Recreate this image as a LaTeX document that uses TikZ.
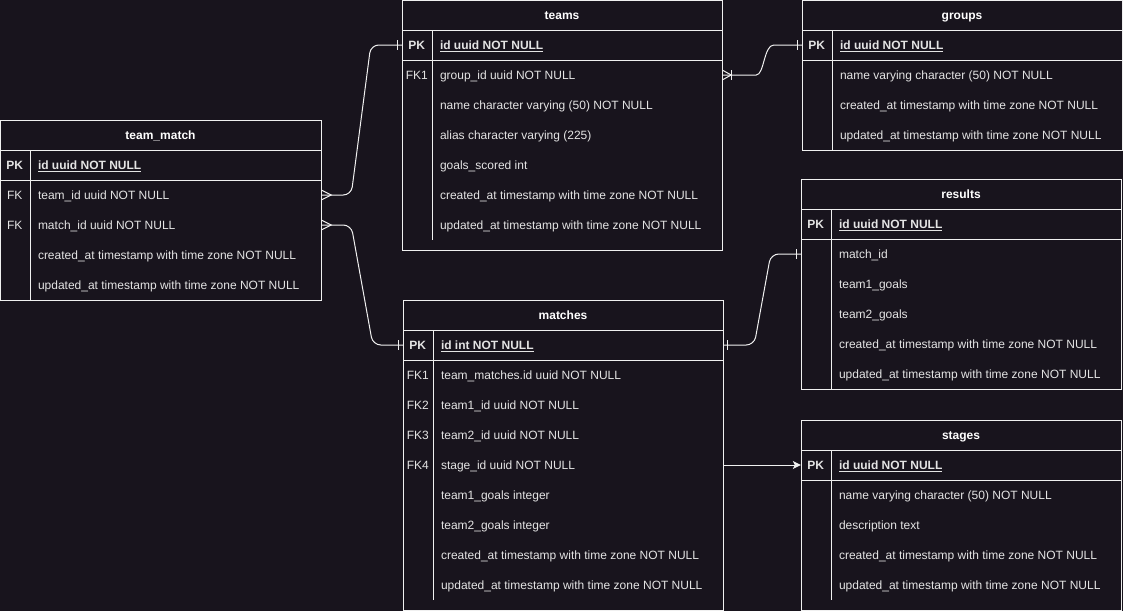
\documentclass[tikz,border=0pt]{standalone}
\usepackage{fontspec}
\setmainfont{Liberation Sans}
\usetikzlibrary{arrows.meta,calc}
\definecolor{bgc}{RGB}{24,20,29}
\definecolor{linec}{RGB}{240,240,240}
\definecolor{txtc}{RGB}{228,228,228}
\tikzset{
  tline/.style={draw=linec, line width=1pt},
  hdrbox/.style={inner sep=0pt, minimum height=30pt, draw=none},
  hdrtxt/.style={inner sep=0pt, anchor=base, text=white, font=\fontsize{12}{14}\selectfont\bfseries},
  rowbox/.style={inner sep=0pt, minimum height=30pt, draw=none},
  keytxt/.style={inner sep=0pt, anchor=base, text=txtc, font=\fontsize{12}{14}\selectfont},
  fldtxt/.style={inner sep=0pt, anchor=base west, text=txtc, font=\fontsize{12}{14}\selectfont},
  conn/.style={draw=linec, line width=1pt, rounded corners=8pt},
  ermark/.style={draw=linec, line width=1pt}
}
% #1 name, #2 x, #3 y, #4 width, #5 bottom, #6 title, #7 divider end
\newcommand\ertbl[7]{%
  \draw[tline] (#2,#3) rectangle (#2+#4,#5);
  \node[hdrbox, minimum width=#4] (#1) at (#2+#4/2,#3+15) {};
  \node[hdrtxt] at ([yshift=-4.5pt]#1.center) {#6};
  \draw[tline] (#2,#3+30) -- (#2+#4,#3+30);
  \draw[tline] (#2,#3+60) -- (#2+#4,#3+60);
  \draw[tline] (#2+30,#3+30) -- (#2+30,#7);
}
% #1 name, #2 x, #3 row top, #4 width, #5 key, #6 text
\newcommand\erfld[6]{%
  \node[rowbox, minimum width=#4] (#1) at (#2+#4/2,#3+15) {};
  \node[keytxt] at ([xshift=15pt,yshift=-4.5pt]#1.west) {#5};
  \node[fldtxt] at ([xshift=38pt,yshift=-4.5pt]#1.west) {#6};
}
\newcommand\pkf[1]{\underline{\textbf{#1}}}
\begin{document}
\begin{tikzpicture}[x=1pt,y=-1pt]
\fill[bgc] (0,0) rectangle (1123,611);
\useasboundingbox (0,0) rectangle (1123,611);

% team_match
\ertbl{tm}{0}{120}{321}{300}{team\_match}{300}
\erfld{tmpk}{0}{150}{321}{\textbf{PK}}{\pkf{id uuid NOT NULL}}
\erfld{tmteam}{0}{180}{321}{FK}{team\_id uuid NOT NULL}
\erfld{tmmatch}{0}{210}{321}{FK}{match\_id uuid NOT NULL}
\erfld{tmc}{0}{240}{321}{}{created\_at timestamp with time zone NOT NULL}
\erfld{tmu}{0}{270}{321}{}{updated\_at timestamp with time zone NOT NULL}

% teams
\ertbl{teams}{402}{0}{320}{250}{teams}{240}
\erfld{teamspk}{402}{30}{320}{\textbf{PK}}{\pkf{id uuid NOT NULL}}
\erfld{teamsfk}{402}{60}{320}{FK1}{group\_id uuid NOT NULL}
\erfld{teamsn}{402}{90}{320}{}{name character varying (50) NOT NULL}
\erfld{teamsa}{402}{120}{320}{}{alias character varying (225)}
\erfld{teamsg}{402}{150}{320}{}{goals\_scored int}
\erfld{teamsc}{402}{180}{320}{}{created\_at timestamp with time zone NOT NULL}
\erfld{teamsu}{402}{210}{320}{}{updated\_at timestamp with time zone NOT NULL}

% groups
\ertbl{groups}{802}{0}{320}{150}{groups}{150}
\erfld{groupspk}{802}{30}{320}{\textbf{PK}}{\pkf{id uuid NOT NULL}}
\erfld{groupsn}{802}{60}{320}{}{name varying character (50) NOT NULL}
\erfld{groupsc}{802}{90}{320}{}{created\_at timestamp with time zone NOT NULL}
\erfld{groupsu}{802}{120}{320}{}{updated\_at timestamp with time zone NOT NULL}

% results
\ertbl{results}{801}{179}{320}{389}{results}{389}
\erfld{resultspk}{801}{209}{320}{\textbf{PK}}{\pkf{id uuid NOT NULL}}
\erfld{resultsm}{801}{239}{320}{}{match\_id}
\erfld{results1}{801}{269}{320}{}{team1\_goals}
\erfld{results2}{801}{299}{320}{}{team2\_goals}
\erfld{resultsc}{801}{329}{320}{}{created\_at timestamp with time zone NOT NULL}
\erfld{resultsu}{801}{359}{320}{}{updated\_at timestamp with time zone NOT NULL}

% matches
\ertbl{matches}{403}{300}{320}{610}{matches}{600}
\erfld{matchespk}{403}{330}{320}{\textbf{PK}}{\pkf{id int NOT NULL}}
\erfld{matchesf1}{403}{360}{320}{FK1}{team\_matches.id uuid NOT NULL}
\erfld{matchesf2}{403}{390}{320}{FK2}{team1\_id uuid NOT NULL}
\erfld{matchesf3}{403}{420}{320}{FK3}{team2\_id uuid NOT NULL}
\erfld{matchesf4}{403}{450}{320}{FK4}{stage\_id uuid NOT NULL}
\erfld{matchesg1}{403}{480}{320}{}{team1\_goals integer}
\erfld{matchesg2}{403}{510}{320}{}{team2\_goals integer}
\erfld{matchesc}{403}{540}{320}{}{created\_at timestamp with time zone NOT NULL}
\erfld{matchesu}{403}{570}{320}{}{updated\_at timestamp with time zone NOT NULL}

% stages
\ertbl{stages}{801}{420}{320}{610}{stages}{600}
\erfld{stagespk}{801}{450}{320}{\textbf{PK}}{\pkf{id uuid NOT NULL}}
\erfld{stagesn}{801}{480}{320}{}{name varying character (50) NOT NULL}
\erfld{stagesd}{801}{510}{320}{}{description text}
\erfld{stagesc}{801}{540}{320}{}{created\_at timestamp with time zone NOT NULL}
\erfld{stagesu}{801}{570}{320}{}{updated\_at timestamp with time zone NOT NULL}

% connectors
\draw[conn] (tmteam.east) -- ([xshift=30pt]tmteam.east) -- ([xshift=-31pt]teamspk.west) -- (teamspk.west);
\draw[ermark] ([yshift=5pt]tmteam.east) -- ([xshift=10pt]tmteam.east) -- ([yshift=-5pt]tmteam.east);
\draw[ermark] ([xshift=-4pt,yshift=5pt]teamspk.west) -- ([xshift=-4pt,yshift=-5pt]teamspk.west);

\draw[conn] (tmmatch.east) -- ([xshift=30pt]tmmatch.east) -- ([xshift=-30pt]matchespk.west) -- (matchespk.west);
\draw[ermark] ([yshift=5pt]tmmatch.east) -- ([xshift=10pt]tmmatch.east) -- ([yshift=-5pt]tmmatch.east);
\draw[ermark] ([xshift=-4pt,yshift=5pt]matchespk.west) -- ([xshift=-4pt,yshift=-5pt]matchespk.west);

\draw[conn] (teamsfk.east) -- ([xshift=26pt]teamsfk.east) .. controls ([xshift=42pt]teamsfk.east) and ([xshift=-38pt]groupspk.west) .. ([xshift=-20pt]groupspk.west) -- (groupspk.west);
\draw[ermark] ([yshift=5pt]teamsfk.east) -- ([xshift=9pt]teamsfk.east) -- ([yshift=-5pt]teamsfk.east);
\draw[ermark] ([xshift=9pt,yshift=5pt]teamsfk.east) -- ([xshift=9pt,yshift=-5pt]teamsfk.east);
\draw[ermark] ([xshift=-4pt,yshift=5pt]groupspk.west) -- ([xshift=-4pt,yshift=-5pt]groupspk.west);

\draw[conn] (matchespk.east) -- ([xshift=31pt]matchespk.east) -- ([xshift=-30pt]resultsm.west) -- (resultsm.west);
\draw[ermark] ([xshift=4pt,yshift=5pt]matchespk.east) -- ([xshift=4pt,yshift=-5pt]matchespk.east);
\draw[ermark] ([xshift=-4pt,yshift=5pt]resultsm.west) -- ([xshift=-4pt,yshift=-5pt]resultsm.west);

\draw[draw=linec, line width=1pt, -{Stealth[length=8pt,width=8pt,inset=2pt]}] (matchesf4.east) -- (stagespk.west);
\end{tikzpicture}
\end{document}
